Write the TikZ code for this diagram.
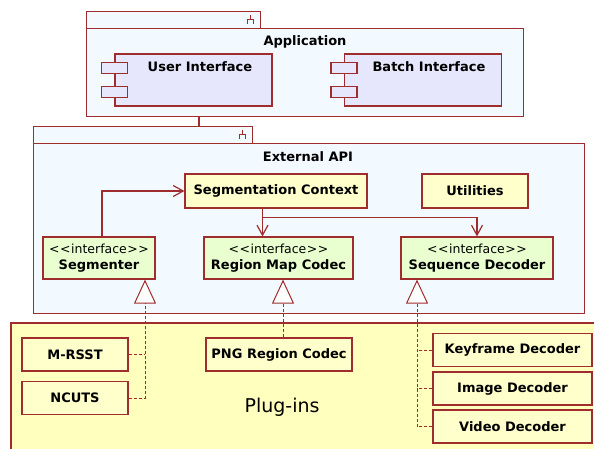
\documentclass[tikz,border=0pt]{standalone}
\usepackage{fontspec}
\setmainfont{DejaVu Sans}
\usetikzlibrary{arrows.meta}

\definecolor{umlred}{RGB}{160,45,45}
\definecolor{pkgblue}{RGB}{242,249,255}
\definecolor{complav}{RGB}{230,230,252}
\definecolor{ifacegreen}{RGB}{234,255,208}
\definecolor{classyellow}{RGB}{255,255,204}
\definecolor{plugyellow}{RGB}{255,255,190}

\newcommand{\ifacetag}{{\fontsize{12.5}{16}\selectfont\mdseries\textless\kern0.5pt\textless\kern0.5pt interface\kern0.5pt\textgreater\kern0.5pt\textgreater}}

\tikzset{
  box/.style={rectangle, draw=umlred, line width=1.2pt, inner sep=0pt},
  pkgtab/.style={box, fill=pkgblue, anchor=north west},
  pkgbody/.style={box, fill=pkgblue, anchor=north west},
  title/.style={font=\fontsize{13}{15}\selectfont\bfseries},
  component/.style={box, fill=complav, minimum width=157pt, minimum height=52pt},
  port/.style={box, fill=complav, minimum width=26pt, minimum height=11pt},
  classbox/.style={box, fill=classyellow, minimum height=34pt, font=\fontsize{13}{15}\selectfont\bfseries},
  iface/.style={classbox, fill=ifacegreen, minimum height=42pt, align=center, font=\fontsize{13}{16}\selectfont\bfseries},
  plugin/.style={classbox, minimum height=33pt},
  link/.style={draw=umlred, line width=1.2pt},
  uses/.style={link, -{Straight Barb[length=10pt, width=11pt]}},
  dashline/.style={draw=umlred, line width=0.9pt, dash pattern=on 3pt off 2pt},
  realize/.style={dashline, -{Triangle[open, fill=white, length=24pt, width=22pt, line width=1pt]}},
  iconline/.style={draw=umlred, line width=0.9pt}
}

\begin{document}
\begin{tikzpicture}[x=1pt, y=-1pt]
  \useasboundingbox (0,0) rectangle (594,448);

  % Application package
  \node[pkgtab, minimum width=174pt, minimum height=17pt] (apptab) at (86,11) {};
  \node[pkgbody, minimum width=437pt, minimum height=88pt] (app) at (86,28) {};
  \node[title] (apptitle) at (305,42) {Application};
  \node[component] (ui) at (193.5,80) {};
  \node[component] (batch) at (423,80) {};
  \foreach \c in {ui, batch} {
    \node[port] at ([yshift=12pt]\c.west) {};
    \node[port] at ([yshift=-12pt]\c.west) {};
  }
  \node[title] (uitext) at (200,67) {User Interface};
  \node[title] (batchtext) at (429,67) {Batch Interface};

  % External API package
  \node[pkgtab, minimum width=219pt, minimum height=17pt] (apitab) at (33,126) {};
  \node[pkgbody, minimum width=551pt, minimum height=170pt] (api) at (33,143) {};
  \node[title] (apititle) at (308,157) {External API};

  % package icons on the tabs
  \foreach \t in {apptab, apitab} {
    \draw[iconline] ([shift={(-11,4)}]\t.north east) -- ++(0,4);
    \draw[iconline] ([shift={(-14,13)}]\t.north east) -- ++(0,-5) -- ++(6,0) -- ++(0,5);
  }

  % Application uses the API
  \coordinate (applink) at ([xshift=113pt]app.south west);
  \draw[link] (applink) -- (applink |- apitab.north);

  % Classes and interfaces
  \node[classbox, minimum width=182pt] (ctx) at (276,191) {Segmentation Context};
  \node[classbox, minimum width=106pt] (util) at (475,191) {Utilities};
  \node[iface, minimum width=112pt] (seg) at (99,258) {\ifacetag\\Segmenter};
  \node[iface, minimum width=149pt] (rmc) at (278.5,258) {\ifacetag\\Region Map Codec};
  \node[iface, minimum width=152pt] (seqdec) at (477,258) {\ifacetag\\Sequence Decoder};

  % Dependencies
  \draw[uses] ([xshift=3pt]seg.north) |- (ctx.west);
  \coordinate (fork) at ([xshift=-13.5pt, yshift=-9pt]ctx.south);
  \draw[link] ([xshift=-13.5pt]ctx.south) -- (fork);
  \draw[uses] (fork) -- (fork |- rmc.north);
  \draw[uses] (fork) -| (seqdec.north);

  % Plug-ins package
  \draw[box, fill=plugyellow] (11,323) rectangle (610,460);
  \node[font=\fontsize{19}{22}\selectfont] (plugtitle) at (282,407) {Plug-ins};
  \node[plugin, minimum width=106pt] (mrsst) at (75,354.5) {M-RSST};
  \node[plugin, minimum width=106pt] (ncuts) at (75,398) {NCUTS};
  \node[plugin, minimum width=146pt] (png) at (279,354.5) {PNG Region Codec};
  \node[plugin, minimum width=159pt] (keyframe) at (512.5,350) {Keyframe Decoder};
  \node[plugin, minimum width=159pt] (imgdec) at (512.5,388.5) {Image Decoder};
  \node[plugin, minimum width=159pt] (viddec) at (512.5,426.5) {Video Decoder};

  % Realizations
  \coordinate (segbase) at ([xshift=46pt]seg.south);
  \draw[dashline] (mrsst.east) -- (mrsst.east -| segbase);
  \draw[realize] (ncuts.east) -| (segbase);
  \draw[realize] ([xshift=4pt]png.north) -- ([xshift=4.5pt]rmc.south);
  \coordinate (seqbase) at ([xshift=-60pt]seqdec.south);
  \foreach \p in {keyframe, imgdec}
    \draw[dashline] (\p.west) -- (\p.west -| seqbase);
  \draw[realize] (viddec.west) -| (seqbase);
\end{tikzpicture}
\end{document}
